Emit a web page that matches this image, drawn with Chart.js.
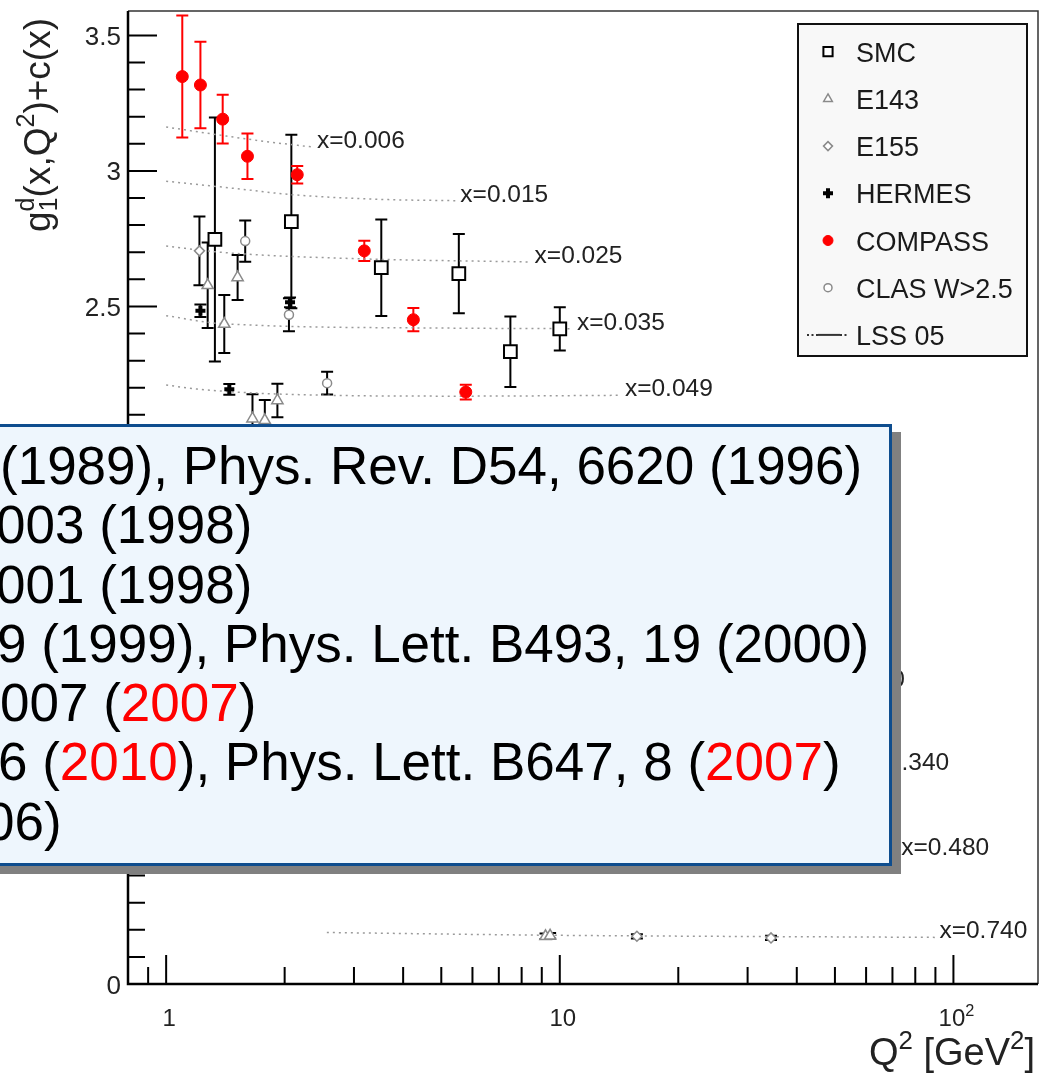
<!DOCTYPE html>
<html>
<head>
<meta charset="utf-8">
<script src="https://cdn.jsdelivr.net/npm/chart.js@4.4.1/dist/chart.umd.min.js"></script>
<style>
  html, body { margin: 0; padding: 0; background: #fff; }
  #wrap { position: relative; width: 1049px; height: 1080px; overflow: hidden; }
  #refs {
    position: absolute; left: -20px; top: 424px; width: 912px; height: 442px;
    box-sizing: border-box; border: 3px solid #0e4d8e; background: #eef6fd;
    box-shadow: 9px 8px 0 #808080; overflow: hidden;
    font-family: 'Liberation Sans', Arial, sans-serif; font-size: 53px; line-height: 59.3px;
    color: #000; padding-top: 9px;
  }
  #refs div { white-space: pre; }
  .r { color: #f00; }
</style>
</head>
<body>
<div id="wrap">
  <canvas id="c" width="1049" height="1080"></canvas>
  <div id="refs">
    <div style="margin-left:17px">(1989), Phys. Rev. D54, 6620 (1996)</div>
    <div style="margin-left:13px">003 (1998)</div>
    <div style="margin-left:13px">001 (1998)</div>
    <div style="margin-left:14px">9 (1999), Phys. Lett. B493, 19 (2000)</div>
    <div style="margin-left:17px">007 (<span class="r">2007</span>)</div>
    <div style="margin-left:15px">6 (<span class="r">2010</span>), Phys. Lett. B647, 8 (<span class="r">2007</span>)</div>
    <div style="margin-left:2px">06)</div>
  </div>
</div>
<script>
// data (Q^2 in GeV^2, g1d + c(x))
const smcQ2 = [1.33, 2.08, 3.52, 5.54, 7.49, 10.0];
const smcVal = [2.747, 2.813, 2.643, 2.621, 2.333, 2.417];
const smcErr = [0.45, 0.32, 0.178, 0.146, 0.13, 0.08];

const e143Q2 = [1.275, 1.405, 1.519, 1.657, 1.781, 1.917, 9.2, 9.45];
const e143Val = [2.578, 2.435, 2.607, 2.086, 2.08, 2.153, 0.176, 0.178];
const e143Err = [0.158, 0.107, 0.083, 0.09, 0.075, 0.062, 0.01, 0.01];

const e155Q2 = [1.215, 15.7, 34.4];
const e155Val = [2.705, 0.176, 0.170];
const e155Err = [0.127, 0.008, 0.008];

const hermesQ2 = [1.222, 1.447, 2.064];
const hermesVal = [2.484, 2.194, 2.515];
const hermesErr = [0.023, 0.02, 0.018];

const compassQ2 = [1.099, 1.222, 1.392, 1.609, 2.153, 3.187, 4.246, 5.77];
const compassVal = [3.348, 3.317, 3.191, 3.054, 2.986, 2.705, 2.451, 2.184];
const compassErr = [0.225, 0.16, 0.09, 0.084, 0.032, 0.037, 0.043, 0.027];

const clasQ2 = [1.588, 2.051, 2.564];
const clasVal = [2.741, 2.469, 2.217];
const clasErr = [0.076, 0.061, 0.042];

// LSS 05 curves, one per x bin
const lssLabels = ['x=0.006', 'x=0.015', 'x=0.025', 'x=0.035', 'x=0.049', 'x=0.240', 'x=0.340', 'x=0.480', 'x=0.740'];
const lssQ2 = [
  [1.0, 1.37, 1.8, 2.36],
  [1.0, 1.5, 2.1, 3.5, 5.46],
  [1.0, 1.37, 2.9, 8.43],
  [1.0, 1.37, 5.2, 10.8],
  [1.0, 1.2, 2.0, 5.7, 14.3],
  [1.5, 10, 44],
  [2.0, 10, 57],
  [2.2, 10, 72],
  [2.56, 9.3, 90]
];
const lssVal = [
  [3.162, 3.132, 3.108, 3.088],
  [2.962, 2.935, 2.912, 2.895, 2.89],
  [2.723, 2.700, 2.677, 2.664],
  [2.466, 2.437, 2.42, 2.418],
  [2.21, 2.195, 2.176, 2.169, 2.172],
  [1.13, 1.11, 1.10],
  [0.81, 0.80, 0.794],
  [0.49, 0.483, 0.478],
  [0.19, 0.18, 0.172]
];

const yTickValues = [0, 0.5, 1, 1.5, 2, 2.5, 3, 3.5];
const yTickLabels = ['0', '0.5', '1', '1.5', '2', '2.5', '3', '3.5'];
const xTickValues = [1, 10, 100];
const xTickLabels = ['1', '10', '10^2'];
const xMinorTicks = [0.9, 2, 3, 4, 5, 6, 7, 8, 9, 20, 30, 40, 50, 60, 70, 80, 90];

const FONT = "'Liberation Sans', Arial, sans-serif";

const pts = (xs, ys) => xs.map((q, i) => ({ x: q, y: ys[i] }));

const datasets = [
  { label: 'SMC', data: pts(smcQ2, smcVal), yErr: smcErr, errColor: '#000',
    pointStyle: 'rect', pointRadius: 9, borderWidth: 2, borderColor: '#000', backgroundColor: '#fff', legendRadius: 6.5 },
  { label: 'E143', data: pts(e143Q2, e143Val), yErr: e143Err, errColor: '#000',
    pointStyle: 'triangle', pointRadius: 6.5, borderWidth: 1.5, borderColor: '#8a8a8a', backgroundColor: '#fff', legendRadius: 5 },
  { label: 'E155', data: pts(e155Q2, e155Val), yErr: e155Err, errColor: '#000',
    pointStyle: 'rectRot', pointRadius: 5, borderWidth: 1.5, borderColor: '#8a8a8a', backgroundColor: '#fff', legendRadius: 4.5 },
  { label: 'HERMES', data: pts(hermesQ2, hermesVal), yErr: hermesErr, errColor: '#000',
    pointStyle: 'cross', pointRadius: 5, borderWidth: 4, borderColor: '#000', backgroundColor: '#000', legendRadius: 5 },
  { label: 'COMPASS', data: pts(compassQ2, compassVal), yErr: compassErr, errColor: '#f00',
    pointStyle: 'circle', pointRadius: 6, borderWidth: 1, borderColor: '#f00', backgroundColor: '#f00', legendRadius: 5 },
  { label: 'CLAS W>2.5', data: pts(clasQ2, clasVal), yErr: clasErr, errColor: '#000',
    pointStyle: 'circle', pointRadius: 4.5, borderWidth: 1.5, borderColor: '#8a8a8a', backgroundColor: '#fff', legendRadius: 4 }
];
lssLabels.forEach((lab, i) => {
  datasets.push({
    label: 'LSS 05', binLabel: lab, lss: true, order: 10,
    data: pts(lssQ2[i], lssVal[i]), showLine: true, pointRadius: 0,
    borderColor: '#9a9a9a', borderWidth: 1.5, borderDash: [2, 4],
    cubicInterpolationMode: 'monotone'
  });
});

// text with superscripts: parts = [{t}, {t, s:true}, {stack:[sup, sub], s:true}]
function richWidth(ctx, parts, size) {
  let w = 0;
  parts.forEach(p => {
    ctx.font = `${p.s ? size * 0.68 : size}px ${FONT}`;
    w += p.w !== undefined ? p.w : ctx.measureText(p.t).width;
  });
  return w;
}
function drawRich(ctx, parts, x, y, size) {
  let cx = x;
  parts.forEach(p => {
    ctx.font = `${p.s ? size * 0.68 : size}px ${FONT}`;
    if (p.stack) {
      const w1 = ctx.measureText(p.stack[0]).width, w2 = ctx.measureText(p.stack[1]).width;
      ctx.fillText(p.stack[0], cx, y - size * 0.42);
      ctx.fillText(p.stack[1], cx, y + size * 0.18);
      cx += Math.max(w1, w2);
    } else {
      ctx.fillText(p.t, cx, y + (p.s ? -size * 0.42 : 0));
      cx += ctx.measureText(p.t).width;
    }
  });
}

const rootStyle = {
  id: 'rootStyle',
  beforeDatasetsDraw(chart) {
    const { ctx, scales: { x, y } } = chart;
    ctx.save();
    ctx.lineWidth = 2;
    chart.data.datasets.forEach(ds => {
      if (!ds.yErr) return;
      ctx.strokeStyle = ds.errColor;
      ds.data.forEach((p, i) => {
        const px = x.getPixelForValue(p.x);
        const top = y.getPixelForValue(p.y + ds.yErr[i]);
        const bot = y.getPixelForValue(p.y - ds.yErr[i]);
        ctx.beginPath();
        ctx.moveTo(px, top); ctx.lineTo(px, bot);
        ctx.moveTo(px - 6, top); ctx.lineTo(px + 6, top);
        ctx.moveTo(px - 6, bot); ctx.lineTo(px + 6, bot);
        ctx.stroke();
      });
    });
    ctx.restore();
  },
  afterDatasetsDraw(chart) {
    const { ctx } = chart;
    ctx.save();
    // x-bin labels at the end of each curve
    ctx.fillStyle = '#222';
    ctx.font = `24.5px ${FONT}`;
    ctx.textAlign = 'left';
    ctx.textBaseline = 'alphabetic';
    chart.data.datasets.forEach((ds, i) => {
      if (!ds.lss) return;
      const meta = chart.getDatasetMeta(i);
      const last = meta.data[meta.data.length - 1];
      ctx.fillText(ds.binLabel, last.x + 4, last.y + 1);
    });

    // legend box
    const lx = 798, ly = 24, lw = 229, lh = 332;
    ctx.fillStyle = '#f8f8f8';
    ctx.fillRect(lx, ly, lw, lh);
    ctx.strokeStyle = '#111';
    ctx.lineWidth = 2;
    ctx.strokeRect(lx, ly, lw, lh);
    const entries = chart.data.datasets.filter(d => !d.lss);
    entries.push(chart.data.datasets.find(d => d.lss));
    ctx.font = `27px ${FONT}`;
    entries.forEach((ds, i) => {
      const cy = 51.7 + i * 47.2;
      if (ds.lss) {
        ctx.strokeStyle = '#333';
        ctx.lineWidth = 2;
        ctx.setLineDash([2, 2.5]);
        ctx.beginPath(); ctx.moveTo(807, cy); ctx.lineTo(818, cy);
        ctx.moveTo(840, cy); ctx.lineTo(849, cy); ctx.stroke();
        ctx.setLineDash([]);
        ctx.beginPath(); ctx.moveTo(818, cy); ctx.lineTo(840, cy); ctx.stroke();
      } else {
        ctx.fillStyle = ds.backgroundColor;
        ctx.strokeStyle = ds.borderColor;
        ctx.lineWidth = ds.borderWidth;
        Chart.helpers.drawPoint(ctx, { pointStyle: ds.pointStyle, radius: ds.legendRadius, borderWidth: ds.borderWidth, rotation: 0 }, 828, cy);
      }
      ctx.fillStyle = '#1a1a1a';
      ctx.fillText(ds.label, 856, cy + 10);
    });
    ctx.restore();
  },
  afterDraw(chart) {
    const { ctx, chartArea: a, scales: { x, y } } = chart;
    ctx.save();
    // frame
    ctx.strokeStyle = '#333';
    ctx.lineWidth = 1.5;
    ctx.beginPath();
    ctx.moveTo(a.left, a.top); ctx.lineTo(a.right, a.top); ctx.lineTo(a.right, a.bottom);
    ctx.stroke();
    ctx.strokeStyle = '#000';
    ctx.lineWidth = 2.5;
    ctx.beginPath();
    ctx.moveTo(a.left, a.top); ctx.lineTo(a.left, a.bottom); ctx.lineTo(a.right, a.bottom);
    ctx.stroke();

    // y ticks
    ctx.lineWidth = 2;
    ctx.beginPath();
    for (let k = 0; k <= 35; k++) {
      const v = k / 10;
      const py = y.getPixelForValue(v);
      const len = k % 5 === 0 ? 29 : 17;
      ctx.moveTo(a.left, py); ctx.lineTo(a.left + len, py);
    }
    // x ticks
    xTickValues.forEach(v => {
      const px = x.getPixelForValue(v);
      ctx.moveTo(px, a.bottom); ctx.lineTo(px, a.bottom - 29);
    });
    xMinorTicks.forEach(v => {
      const px = x.getPixelForValue(v);
      ctx.moveTo(px, a.bottom); ctx.lineTo(px, a.bottom - 17);
    });
    ctx.stroke();

    // tick labels
    ctx.fillStyle = '#222';
    ctx.font = `26px ${FONT}`;
    ctx.textAlign = 'right';
    ctx.textBaseline = 'alphabetic';
    yTickValues.forEach((v, i) => {
      ctx.fillText(yTickLabels[i], 121, y.getPixelForValue(v) + 9.5);
    });
    ctx.textAlign = 'left';
    xTickValues.forEach((v, i) => {
      const [base, exp] = xTickLabels[i].split('^');
      const parts = [{ t: base }];
      if (exp) parts.push({ t: exp, s: true });
      const w = richWidth(ctx, parts, 24);
      drawRich(ctx, parts, x.getPixelForValue(v) + 3 - w / 2, 1026, 24);
    });

    // x title
    const xt = [{ t: 'Q' }, { t: '2', s: true }, { t: ' [GeV' }, { t: '2', s: true }, { t: ']' }];
    const xw = richWidth(ctx, xt, 38);
    drawRich(ctx, xt, 1035 - xw, 1065, 38);

    // y title
    const yt = [{ t: 'g' }, { stack: ['d', '1'], s: true }, { t: '(x,Q' }, { t: '2', s: true }, { t: ')+c(x)' }];
    ctx.font = `${37 * 0.68}px ${FONT}`;
    yt[1].w = Math.max(ctx.measureText('d').width, ctx.measureText('1').width);
    const yw = richWidth(ctx, yt, 37);
    ctx.translate(50, 18);
    ctx.rotate(-Math.PI / 2);
    drawRich(ctx, yt, -yw, 0, 37);
    ctx.restore();
  }
};

new Chart(document.getElementById('c'), {
  type: 'scatter',
  data: { datasets },
  options: {
    responsive: false,
    animation: false,
    devicePixelRatio: 1,
    layout: { padding: { left: 128, right: 6, top: 7, bottom: 96 } },
    scales: {
      x: { type: 'logarithmic', min: 0.8, max: 164, display: false },
      y: { type: 'linear', min: 0, max: 3.59, display: false }
    },
    plugins: { legend: { display: false }, tooltip: { enabled: false } }
  },
  plugins: [rootStyle]
});
</script>
</body>
</html>
